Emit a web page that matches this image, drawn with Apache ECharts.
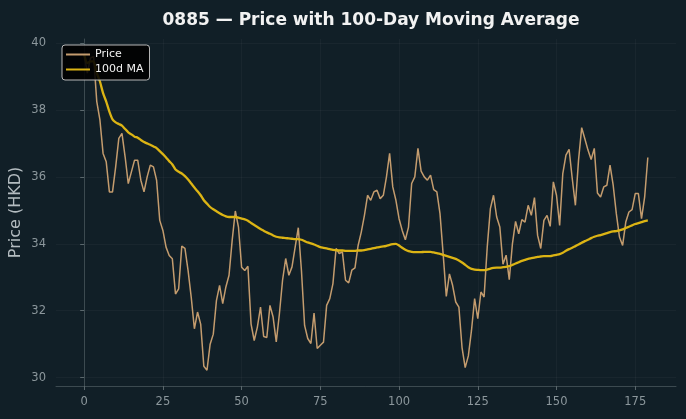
<!DOCTYPE html>
<html>
<head>
<meta charset="utf-8">
<script src="https://cdn.jsdelivr.net/npm/echarts@6/dist/echarts.min.js"></script>
<style>
  html, body { margin: 0; padding: 0; background: #111f27; }
  #chart { width: 686px; height: 419px; }
</style>
</head>
<body>
<div id="chart"></div>
<script>
// 收盘价（按交易日序号 0..179）
const price = [
  39.65, 39.1, 39.55, 39.6, 38.25, 37.7, 36.7, 36.45, 35.55, 35.55,
  36.3, 37.15, 37.3, 36.6, 35.8, 36.15, 36.5, 36.5, 35.9, 35.55,
  36.0, 36.35, 36.3, 35.9, 34.7, 34.4, 33.9, 33.65, 33.55, 32.5,
  32.65, 33.93, 33.86, 33.2, 32.4, 31.46, 31.96, 31.6, 30.34, 30.22,
  31.0, 31.3, 32.3, 32.76, 32.21, 32.71, 33.06, 34.1, 34.98, 34.5,
  33.3, 33.2, 33.33, 31.6, 31.11, 31.51, 32.11, 31.23, 31.2, 32.16,
  31.81, 31.07, 31.91, 32.91, 33.56, 33.06, 33.31, 33.9, 34.48, 33.2,
  31.56, 31.17, 31.02, 31.93, 30.87, 30.97, 31.06, 32.16, 32.36, 32.81,
  33.86, 33.71, 33.76, 32.91, 32.83, 33.21, 33.28, 33.95, 34.35, 34.85,
  35.45, 35.3, 35.55, 35.6, 35.35, 35.45, 36.0, 36.7, 35.7, 35.3,
  34.75, 34.4, 34.12, 34.5, 35.8, 36.0, 36.85, 36.17, 36.0, 35.9,
  36.05, 35.62, 35.55, 34.9, 33.7, 32.43, 33.1, 32.76, 32.26, 32.11,
  30.9, 30.3, 30.65, 31.41, 32.36, 31.76, 32.56, 32.41, 33.9, 35.05,
  35.45, 34.8, 34.5, 33.39, 33.66, 32.93, 34.0, 34.67, 34.3, 34.72,
  34.65, 35.15, 34.85, 35.38, 34.25, 33.86, 34.7, 34.85, 34.52, 35.85,
  35.45, 34.55, 36.1, 36.65, 36.82, 35.95, 35.15, 36.5, 37.47, 37.14,
  36.8, 36.52, 36.85, 35.52, 35.4, 35.7, 35.75, 36.35, 35.75, 34.9,
  34.2, 33.95, 34.65, 34.95, 35.02, 35.5, 35.5, 34.75, 35.4, 36.58
];

// 100日均线
const ma100 = [
  39.65, 39.4, 39.45, 39.45, 39.1, 38.85, 38.5, 38.25, 37.95, 37.72,
  37.63, 37.58, 37.53, 37.43, 37.33, 37.27, 37.2, 37.17, 37.1, 37.04,
  37.0, 36.96, 36.91, 36.86, 36.77, 36.68, 36.58, 36.47, 36.37, 36.22,
  36.15, 36.1, 36.02, 35.92, 35.8, 35.68, 35.57, 35.45, 35.3, 35.2,
  35.1, 35.03, 34.97, 34.91, 34.86, 34.82, 34.8, 34.8, 34.8, 34.78,
  34.75, 34.73, 34.69, 34.62, 34.56, 34.5, 34.44, 34.39, 34.34, 34.3,
  34.25, 34.21, 34.19, 34.18, 34.17, 34.16, 34.15, 34.14, 34.14, 34.12,
  34.08, 34.04, 34.01, 33.98, 33.94, 33.9, 33.88, 33.86, 33.84, 33.82,
  33.81, 33.8, 33.8, 33.79, 33.79, 33.79, 33.79, 33.8, 33.8, 33.81,
  33.83, 33.85, 33.87, 33.89, 33.91, 33.92, 33.94, 33.97, 33.99, 34.0,
  33.95, 33.88, 33.82, 33.78, 33.76, 33.75, 33.75, 33.75, 33.76, 33.76,
  33.76, 33.74, 33.72, 33.7, 33.67, 33.64, 33.61, 33.58, 33.55, 33.5,
  33.44, 33.37, 33.3, 33.25, 33.23, 33.22, 33.21, 33.21, 33.23, 33.26,
  33.28, 33.29, 33.29, 33.3, 33.31, 33.33, 33.37, 33.41, 33.45, 33.49,
  33.52, 33.55, 33.57, 33.59, 33.61, 33.62, 33.63, 33.63, 33.63, 33.65,
  33.67, 33.69, 33.73, 33.79, 33.84, 33.88, 33.93, 33.98, 34.03, 34.08,
  34.12, 34.17, 34.21, 34.24, 34.26, 34.29, 34.32, 34.35, 34.37, 34.38,
  34.4, 34.43, 34.47, 34.51, 34.55, 34.59, 34.62, 34.65, 34.68, 34.7
];

const xTicks = [0, 25, 50, 75, 100, 125, 150, 175];
const yTicks = [30, 32, 34, 36, 38, 40];

const chart = echarts.init(document.getElementById('chart'));

const axisColor = '#8c979c';
const gridColor = 'rgba(255,255,255,0.035)';
const font = 'DejaVu Sans';

const option = {
  backgroundColor: '#111f27',
  animation: false,
  textStyle: { fontFamily: font },
  title: {
    text: '0885 — Price with 100-Day Moving Average',
    left: 366,
    textAlign: 'center',
    top: 7,
    textStyle: { color: '#f2f2f2', fontSize: 17, fontWeight: 'bold', fontFamily: font }
  },
  legend: {
    left: 62,
    top: 45,
    orient: 'vertical',
    itemWidth: 24,
    itemHeight: 11,
    itemGap: 4,
    padding: [4, 6, 5, 3],
    backgroundColor: 'rgba(0,0,0,0.88)',
    borderColor: '#b8b8b8',
    borderWidth: 1,
    borderRadius: 3,
    itemStyle: { opacity: 0 },
    lineStyle: { width: 2 },
    textStyle: { color: '#f2f2f2', fontSize: 11, fontFamily: font },
    data: ['Price', '100d MA']
  },
  grid: { left: 56, right: 10, top: 39, bottom: 33, outerBoundsMode: 'none' },
  xAxis: {
    type: 'value',
    min: -8.95,
    max: 187.95,
    axisLine: { show: true, onZero: false, lineStyle: { color: '#3c4a50', width: 1 } },
    axisTick: { show: true, length: 4, customValues: xTicks, lineStyle: { color: '#5a676c' } },
    axisLabel: { customValues: xTicks, color: axisColor, fontSize: 11.5, margin: 10, fontFamily: font },
    splitLine: { show: true, lineStyle: { color: gridColor, width: 1 } }
  },
  yAxis: {
    type: 'value',
    min: 29.75,
    max: 40.12,
    name: 'Price (HKD)',
    nameLocation: 'middle',
    nameGap: 32,
    nameMoveOverlap: false,
    nameTextStyle: { color: '#b4bcc0', fontSize: 16, fontFamily: font },
    axisLine: { show: true, lineStyle: { color: '#3c4a50', width: 1 } },
    axisTick: { show: true, length: 4, customValues: yTicks, lineStyle: { color: '#5a676c' } },
    axisLabel: { customValues: yTicks, color: axisColor, fontSize: 11.5, margin: 10, fontFamily: font },
    splitLine: { show: true, lineStyle: { color: gridColor, width: 1 } }
  },
  series: [
    {
      name: 'Price',
      type: 'line',
      data: price.map((v, i) => [i, v]),
      symbol: 'none',
      lineStyle: { color: '#c49c6e', width: 1.5 },
      itemStyle: { color: '#c49c6e' },
      z: 2
    },
    {
      name: '100d MA',
      type: 'line',
      data: ma100.map((v, i) => [i, v]),
      symbol: 'none',
      smooth: 0.2,
      lineStyle: { color: '#dcb414', width: 2.3 },
      itemStyle: { color: '#dcb414' },
      z: 3
    }
  ]
};

chart.setOption(option);
</script>
</body>
</html>
